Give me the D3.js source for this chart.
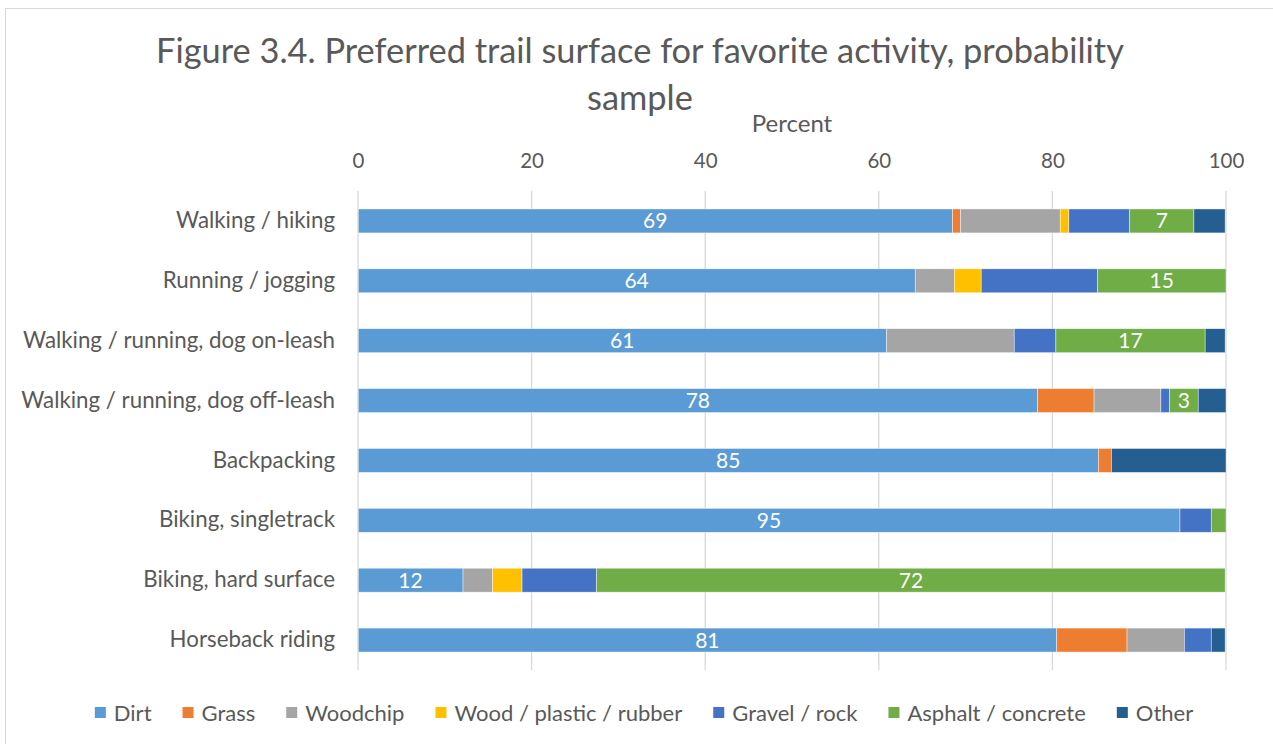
<!DOCTYPE html>
<html>
<head>
<meta charset="utf-8">
<script src="https://cdn.jsdelivr.net/npm/d3@7"></script>
<style>
  html, body { margin: 0; padding: 0; background: #fff; }
  svg { display: block; }
  text { font-family: Lato, "Open Sans", sans-serif; }
</style>
</head>
<body>
<svg id="chart" width="1273" height="744"></svg>
<script>
const categories = [
  "Walking / hiking",
  "Running / jogging",
  "Walking / running, dog on-leash",
  "Walking / running, dog off-leash",
  "Backpacking",
  "Biking, singletrack",
  "Biking, hard surface",
  "Horseback riding"
];
const seriesNames = ["Dirt", "Grass", "Woodchip", "Wood / plastic / rubber", "Gravel / rock", "Asphalt / concrete", "Other"];
const dirt     = [68.5, 64.2, 60.9, 78.3, 85.3, 94.7, 12.1, 80.5];
const grass    = [0.9, 0, 0, 6.5, 1.5, 0, 0, 8.1];
const woodchip = [11.5, 4.5, 14.7, 7.7, 0, 0, 3.4, 6.6];
const wood     = [1.0, 3.1, 0, 0, 0, 0, 3.4, 0];
const gravel   = [7.0, 13.4, 4.8, 1.0, 0, 3.6, 8.6, 3.1];
const asphalt  = [7.4, 14.8, 17.2, 3.3, 0, 1.7, 72.4, 0];
const other    = [3.6, 0, 2.3, 3.2, 13.2, 0, 0, 1.6];
const colors = ["#5B9BD5", "#ED7D31", "#A5A5A5", "#FFC000", "#4472C4", "#70AD47", "#255E91"];
const labeledSeries = ["Dirt", "Asphalt / concrete"];
const xTicks = [0, 20, 40, 60, 80, 100];
const titleLines = ["Figure 3.4. Preferred trail surface for favorite activity, probability", "sample"];
const axisTitle = "Percent";

const seriesValues = [dirt, grass, woodchip, wood, gravel, asphalt, other];
const rows = categories.map((c, i) => {
  const r = { category: c };
  seriesNames.forEach((s, j) => r[s] = seriesValues[j][i]);
  return r;
});
const stacked = d3.stack().keys(seriesNames)(rows);

const svg = d3.select("#chart");
const textColor = "#595959";

// chart border
svg.append("rect").attr("x", 5.5).attr("y", 8.5).attr("width", 1400).attr("height", 900)
  .attr("fill", "#fff").attr("stroke", "#d9d9d9").attr("stroke-width", 1);

const plot = { left: 358, right: 1226, top: 191, bottom: 670 };
const x = d3.scaleLinear().domain([0, 100]).range([plot.left, plot.right]);
const y = d3.scaleBand().domain(categories).range([plot.top, plot.bottom]).paddingInner(0.6).paddingOuter(0.3);

// title
const title = svg.append("text").attr("text-anchor", "middle").attr("fill", textColor)
  .style("font-weight", 400).style("font-size", "32px");
title.append("tspan").attr("x", 640).attr("y", 63).text(titleLines[0]);
title.append("tspan").attr("x", 640).attr("y", 110).text(titleLines[1]);
const t0 = title.select("tspan").node();
const w0 = t0.getComputedTextLength();
title.style("font-size", (32 * 968 / w0) + "px");

// gridlines
svg.append("g").selectAll("line").data(xTicks.slice(1)).join("line")
  .attr("x1", d => x(d)).attr("x2", d => x(d))
  .attr("y1", plot.top).attr("y2", plot.bottom)
  .attr("stroke", "#d9d9d9").attr("stroke-width", 1.3);

// x axis (top)
const xAxis = svg.append("g").attr("transform", `translate(0,${plot.top - 23})`)
  .call(d3.axisTop(x).tickValues(xTicks).tickSize(0).tickPadding(0));
xAxis.select(".domain").remove();
xAxis.selectAll("text").attr("fill", textColor).style("font-size", "20.5px")
  .style("font-family", "Lato, sans-serif");

svg.append("text").attr("x", (plot.left + plot.right) / 2).attr("y", 132)
  .attr("text-anchor", "middle").attr("fill", textColor).style("font-size", "24px").text(axisTitle);

// bars
const layers = svg.append("g").selectAll("g").data(stacked).join("g")
  .attr("fill", (d, i) => colors[i]);
layers.selectAll("rect").data(d => d.map(v => ({ v, key: d.key }))).join("rect")
  .filter(d => d.v[1] - d.v[0] > 0)
  .attr("x", d => x(d.v[0]))
  .attr("y", d => y(d.v.data.category))
  .attr("width", d => x(d.v[1]) - x(d.v[0]))
  .attr("height", y.bandwidth())
  .attr("stroke", "#fff").attr("stroke-width", 0.6).attr("stroke-opacity", 0.7);

// data labels
stacked.forEach(layer => {
  if (!labeledSeries.includes(layer.key)) return;
  svg.append("g").selectAll("text").data(layer.filter(v => v[1] - v[0] >= 3)).join("text")
    .attr("x", v => x((v[0] + v[1]) / 2))
    .attr("y", v => y(v.data.category) + y.bandwidth() / 2)
    .attr("dy", "0.36em").attr("text-anchor", "middle")
    .attr("fill", "#fff").style("font-size", "21px")
    .text(v => Math.round(v[1] - v[0]));
});

// y axis line
svg.append("line").attr("x1", plot.left).attr("x2", plot.left)
  .attr("y1", plot.top).attr("y2", plot.bottom).attr("stroke", "#d9d9d9").attr("stroke-width", 1.3);

// category labels
const yAxis = svg.append("g").attr("transform", `translate(${plot.left},0)`)
  .call(d3.axisLeft(y).tickSize(0).tickPadding(23));
yAxis.select(".domain").remove();
yAxis.selectAll("text").attr("fill", textColor).style("font-size", "22.3px")
  .style("font-family", "Lato, sans-serif");

// legend
const legend = svg.append("g");
let lx = 0;
const gap = 31;
seriesNames.forEach((s, i) => {
  const g = legend.append("g").attr("transform", `translate(${lx},0)`);
  g.append("rect").attr("x", 0).attr("y", -6).attr("width", 11).attr("height", 11).attr("fill", colors[i]);
  const t = g.append("text").attr("x", 19).attr("y", 0).attr("dy", "0.35em")
    .attr("fill", textColor).style("font-size", "22px").text(s);
  lx += 19 + t.node().getComputedTextLength() + gap;
});
const legendW = lx - gap;
legend.attr("transform", `translate(${644 - legendW / 2},713)`);
</script>
</body>
</html>
